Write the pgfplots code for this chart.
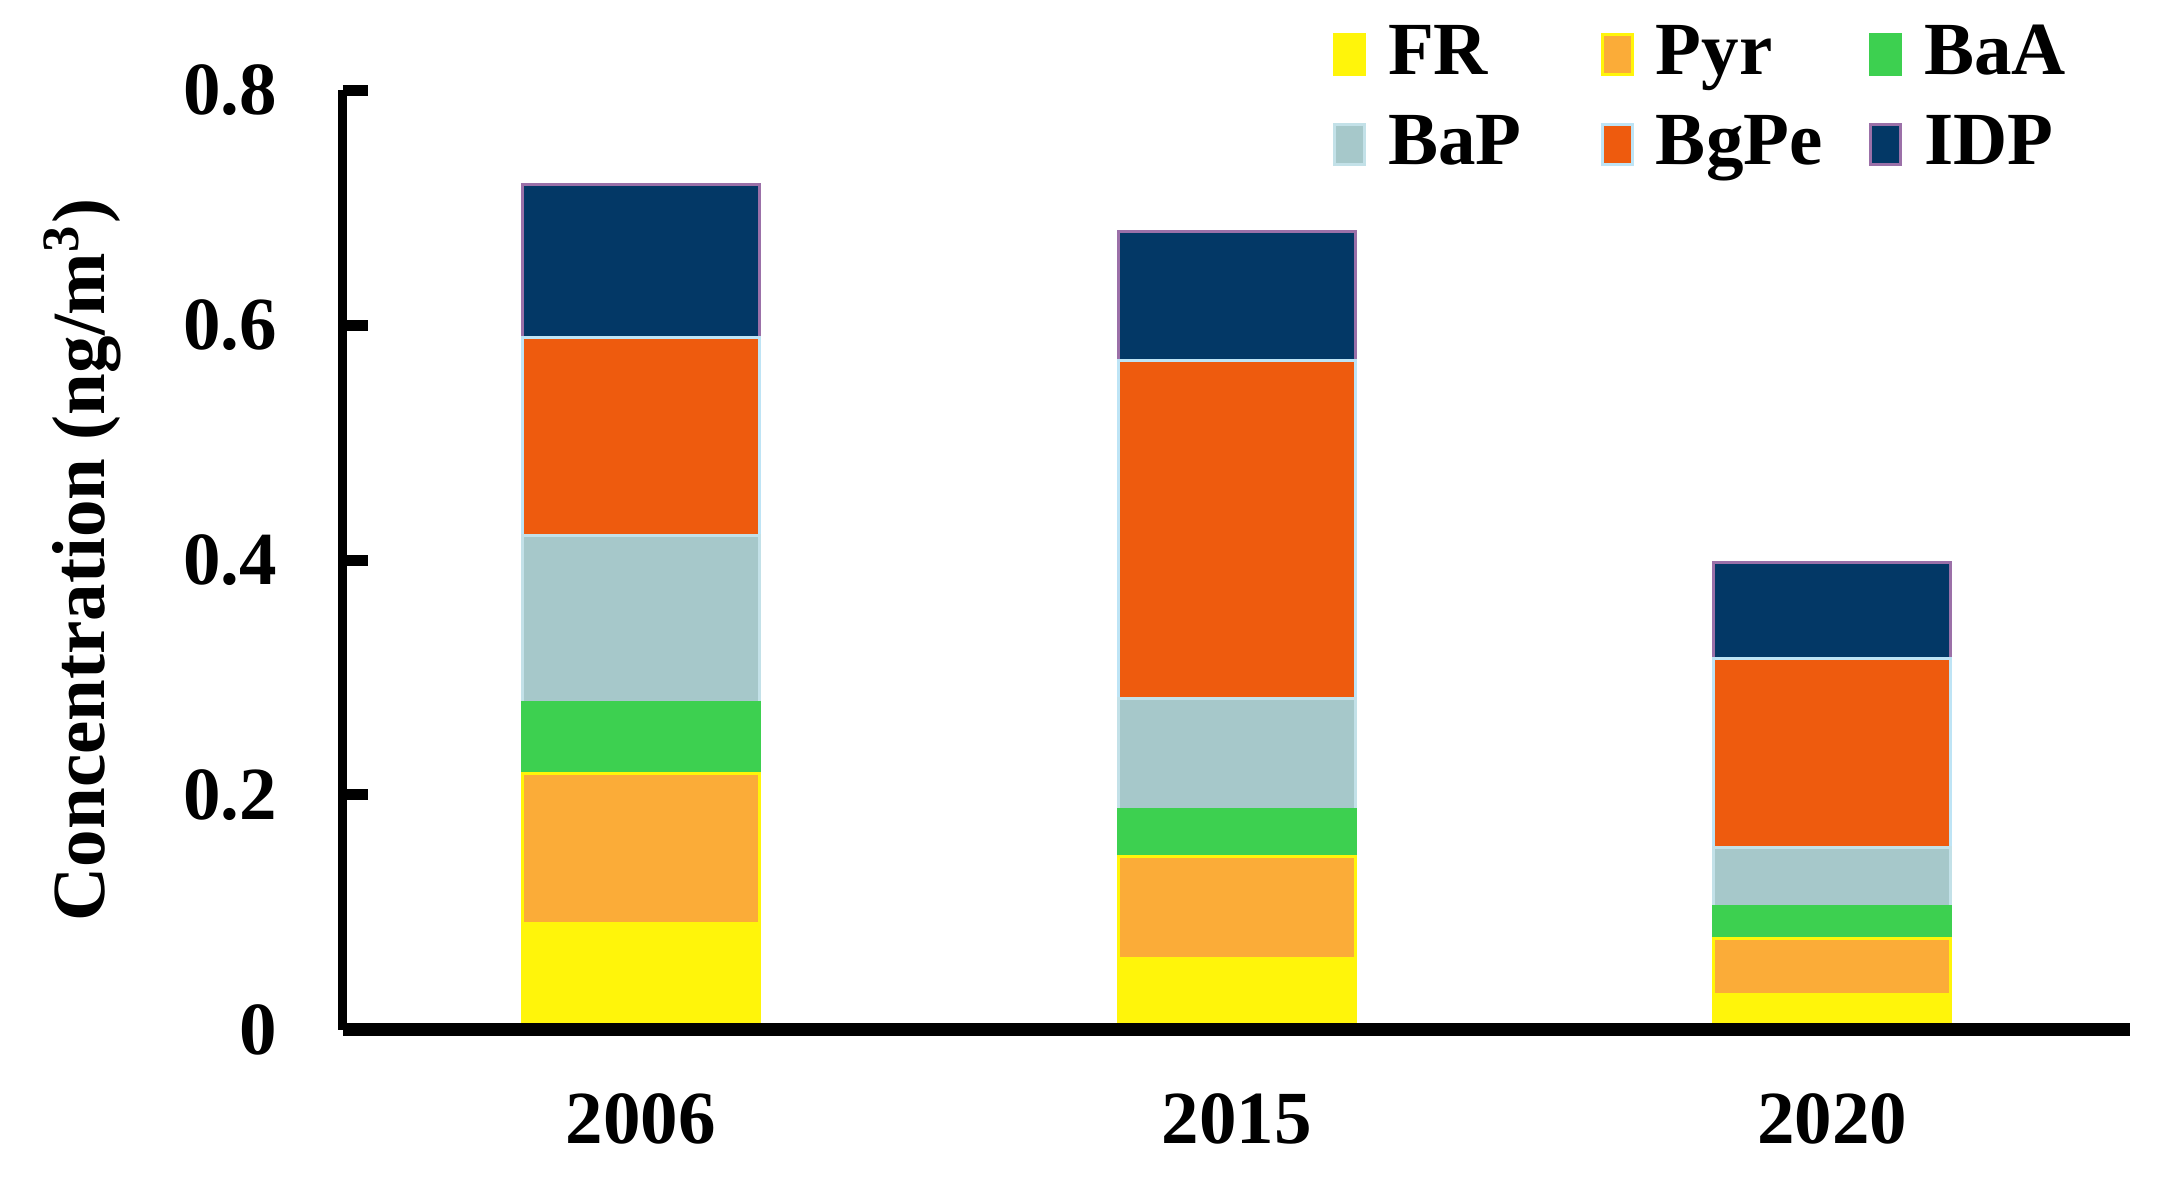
\documentclass[border=0pt]{standalone}
\usepackage{pgfplots}
\pgfplotsset{compat=1.18}
\usepackage{fontspec}
\setmainfont{Liberation Serif}
\definecolor{cFR}{RGB}{255,245,10}
\definecolor{cPyr}{RGB}{251,172,56}
\definecolor{cBaA}{RGB}{61,208,80}
\definecolor{cBaP}{RGB}{166,200,202}
\definecolor{cBgPe}{RGB}{238,91,14}
\definecolor{cIDP}{RGB}{3,56,102}
\definecolor{eBaP}{RGB}{195,225,232}
\definecolor{eBgPe}{RGB}{190,228,245}
\definecolor{eIDP}{RGB}{155,112,168}
\pgfplotsset{/pgfplots/ybar legend/.style={/pgfplots/legend image code/.code={\draw[##1,line width=0.6pt] (0.3pt,0pt) rectangle (8.1pt,7.4pt);}}}
\newcommand{\bigbf}{\bfseries\fontsize{15}{18}\selectfont}
\newcommand{\lt}[1]{\raisebox{-1.9pt}{\makebox[42.6pt][l]{#1}}}
\begin{document}
\begin{tikzpicture}
\path[use as bounding box] (-68.6pt,-31.4pt) rectangle (365.2pt,206pt);
\begin{axis}[
  at={(0pt,0pt)}, anchor=south west,
  scale only axis, width=357.4pt, height=188pt,
  ybar stacked, bar width=47.4pt,
  xmin=-0.5, xmax=2.5, ymin=0, ymax=0.8,
  xtick={0,1,2}, xticklabels={2006,2015,2020},
  ytick={0,0.2,0.4,0.6,0.8}, yticklabels={0,0.2,0.4,0.6,0.8},
  axis x line*=bottom, axis y line*=left,
  x axis line style={line width=2.6pt},
  y axis line style={line width=1.8pt},
  xtick style={draw=none},
  ytick style={line width=2.2pt, black},
  tick align=inside, major tick length=5pt,
  tick label style={font=\bigbf},
  yticklabel style={anchor=east, inner sep=0pt},
  yticklabel shift=13pt,
  xticklabel style={anchor=north, inner sep=0pt},
  xticklabel shift=12.6pt,
  ylabel={Concentration (ng/m\textsuperscript{3})},
  ylabel style={at={(axis description cs:-0.1335,0.5)}, anchor=base, font=\bigbf},
  axis on top,
  legend columns=3,
  legend style={at={(axis description cs:0.554,1.0856)}, anchor=north west,
    draw=none, fill=none, inner sep=0pt, outer sep=0pt,
    column sep=0pt, row sep=3pt,
    nodes={inner sep=0pt, anchor=base west, text height=11pt, text depth=4pt, font=\bigbf},
    /tikz/every odd column/.append style={column sep=4.4pt}},
]
\addplot[fill=cFR, draw=cFR, line width=0.6pt] coordinates {(0,0.091) (1,0.061) (2,0.030)};
\addlegendentry{\lt{FR}}
\addplot[fill=cPyr, draw=cFR, line width=0.6pt] coordinates {(0,0.127) (1,0.087) (2,0.048)};
\addlegendentry{\lt{Pyr}}
\addplot[fill=cBaA, draw=cBaA, line width=0.6pt] coordinates {(0,0.061) (1,0.040) (2,0.027)};
\addlegendentry{\lt{BaA}}
\addplot[fill=cBaP, draw=eBaP, line width=0.6pt] coordinates {(0,0.142) (1,0.094) (2,0.050)};
\addlegendentry{\lt{BaP}}
\addplot[fill=cBgPe, draw=eBgPe, line width=0.6pt] coordinates {(0,0.168) (1,0.288) (2,0.161)};
\addlegendentry{\lt{BgPe}}
\addplot[fill=cIDP, draw=eIDP, line width=0.6pt] coordinates {(0,0.131) (1,0.110) (2,0.082)};
\addlegendentry{\lt{IDP}}
\end{axis}
\end{tikzpicture}
\end{document}
